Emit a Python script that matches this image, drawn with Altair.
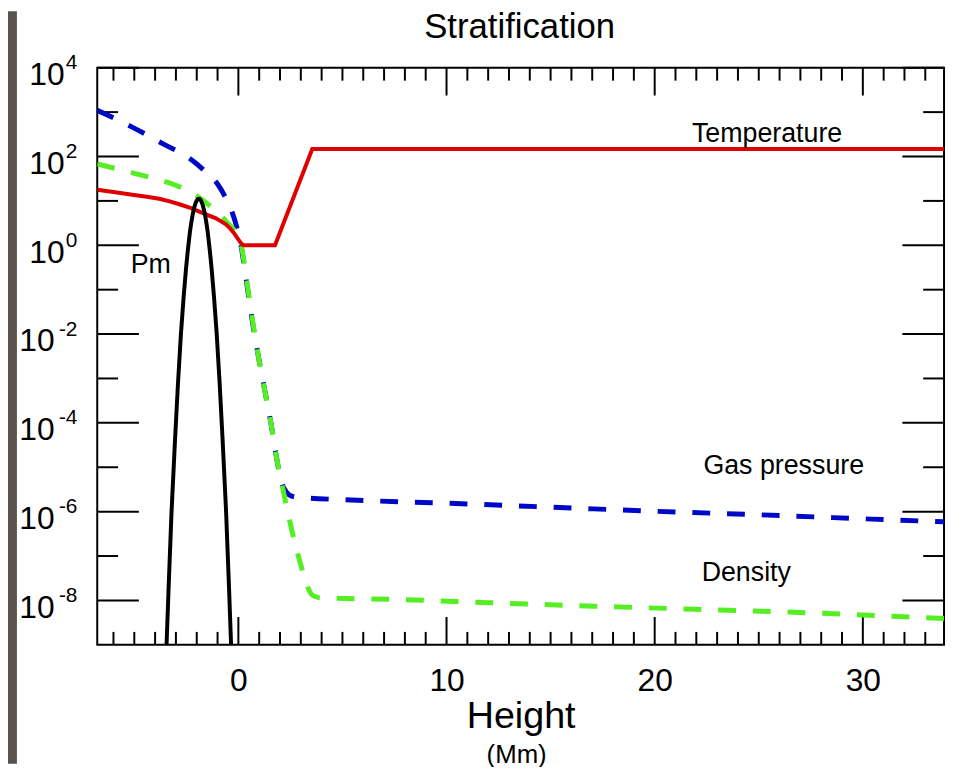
import altair as alt
import pandas as pd

# ---------------- data ----------------
# Temperature (red, solid)
temp_x = [-6.78, -6.0, -5.1, -4.4, -3.8, -3.3, -2.8, -2.35, -1.9, -1.5, -1.1, -0.85, -0.6,
          -0.4, -0.2, 0.0, 0.12, 0.25, 1.76, 3.55, 33.9]
temp_y = [17.8, 15.8, 13.8, 12.4, 11.2, 9.8, 8.3, 7.1, 5.8, 4.85, 4.1, 3.5, 2.95,
          2.4, 1.86, 1.35, 1.12, 1.0, 1.0, 148, 148]

# Gas pressure (blue, dashed)
pres_x = [-6.78, -5.1, -3.5, -2.5, -1.5, -1.0, -0.6, -0.3, -0.1, 0.15, 0.4, 0.7, 1.0,
          1.3, 1.6, 1.86, 2.05, 2.3, 2.6, 2.9, 5, 10, 15, 20, 25, 30, 33.9]
pres_y = [1.1e3, 4.6e2, 1.8e2, 1.02e2, 42, 24, 11.5, 5.6, 2.8, 0.85, 0.14, 1.6e-2, 2.5e-3,
          4.5e-4, 7.9e-5, 1.4e-5, 5.0e-6, 2.8e-6, 2.2e-6, 2.1e-6, 1.86e-6, 1.55e-6,
          1.26e-6, 1.02e-6, 8.5e-7, 6.9e-7, 5.9e-7]

# Density (green, dashed)
dens_x = [-6.78, -5.1, -3.5, -2.95, -2.5, -1.6, -1.24, -0.6, 0.0, 0.15, 0.4, 0.7, 1.0, 1.3,
          1.6, 1.86, 2.14, 2.71, 3.0, 3.33, 3.55, 3.9, 7.6, 12, 17.1, 22, 26.7, 30, 33.9]
dens_y = [68, 43, 27, 22, 17.8, 9.5, 6.8, 3.5, 1.45, 0.93, 0.16, 1.8e-2, 2.5e-3, 4.5e-4,
          7.9e-5, 1.4e-5, 3.2e-6, 2.0e-7, 6.3e-8, 2.0e-8, 1.32e-8, 1.15e-8, 1.05e-8,
          8.9e-9, 7.4e-9, 6.3e-9, 5.4e-9, 4.7e-9, 3.9e-9]

# Pm (black, solid)
pm_x = [-3.45, -3.35, -3.21, -3.0, -2.9, -2.76, -2.63, -2.52, -2.4, -2.32, -2.25, -2.15,
        -2.05, -1.9, -1.75, -1.65, -1.55, -1.48, -1.4, -1.28, -1.17, -1.04, -0.9, -0.8,
        -0.59, -0.45, -0.35]
pm_y = [1e-9, 2e-8, 1e-6, 1e-4, 7.9e-4, 1e-2, 6.8e-2, 0.28, 1.0, 2.1, 3.5, 6.2,
        9.1, 11.2, 9.1, 6.2, 3.5, 2.1, 1.0, 0.28, 6.8e-2, 1e-2, 7.9e-4, 1e-4,
        1e-6, 2e-8, 1e-9]

# Annotations
ann_text = ["Temperature", "Gas pressure", "Density", "Pm"]
ann_x = [25.4, 26.2, 24.4, -4.21]
ann_y = [211, 6.9e-6, 2.8e-8, 0.237]

# Axis ticks / labels
x_major = [0, 10, 20, 30]
x_minor = [v for v in range(-6, 34) if v not in x_major]
y_major_exp = [4, 2, 0, -2, -4, -6, -8]
y_minor_exp = [3, 1, -1, -3, -5, -7]

title_text = "Stratification"
x_title = "Height"
x_unit = "(Mm)"

# ---------------- chart ----------------
F = "Liberation Sans"
W, H = 854, 582
xscale = alt.Scale(domain=[-6.78, 33.9], nice=False, zero=False)
yscale = alt.Scale(type="log", domain=[1e-9, 1e4], nice=False)

xaxis = alt.Axis(values=x_major, labelFontSize=32, labelFont=F, labelColor="black",
                 labelPadding=21, tickSize=0, ticks=False, domain=False, grid=False,
                 labelFlush=False, labelOverlap=False,
                 title=x_title, titleFontSize=38, titleFont=F, titleFontWeight="normal",
                 titleColor="black", titleX=427, titleY=83, titleBaseline="alphabetic",
                 titleAlign="center")


def X():
    return alt.X("h:Q", scale=xscale, axis=xaxis)


def Y():
    return alt.Y("v:Q", scale=yscale, axis=None)


def line(xs, ys, color, width, dash=None, interp="monotone"):
    df = pd.DataFrame({"h": xs, "v": ys})
    kw = dict(color=color, strokeWidth=width, clip=True, interpolate=interp)
    if dash:
        kw["strokeDash"] = dash
    return alt.Chart(df).mark_line(**kw).encode(x=X(), y=Y(), order=alt.Order("h:Q"))


def xticks(vals, length):
    df = pd.DataFrame({"h": vals})
    base = alt.Chart(df).mark_rule(color="black", strokeWidth=2)
    bottom = base.encode(x=X(), y=alt.value(H), y2=alt.value(H - length))
    top = base.encode(x=X(), y=alt.value(0), y2=alt.value(length))
    return [bottom, top]


def yticks(exps, length):
    df = pd.DataFrame({"v": [10.0 ** e for e in exps]})
    base = alt.Chart(df).mark_rule(color="black", strokeWidth=2)
    left = base.encode(y=Y(), x=alt.value(0), x2=alt.value(length))
    right = base.encode(y=Y(), x=alt.value(W), x2=alt.value(W - length))
    return [left, right]


frame = alt.Chart(pd.DataFrame({"a": [0]})).mark_rect(color="#57534e").encode(
    x=alt.value(-90), x2=alt.value(-81), y=alt.value(-57), y2=alt.value(H + 120))

ylab = pd.DataFrame({"v": [10.0 ** e for e in y_major_exp],
                     "e": [str(e) for e in y_major_exp],
                     "n": y_major_exp})
exp_layer = alt.Chart(ylab).mark_text(align="right", baseline="alphabetic", dy=1.5,
                                      fontSize=21, font=F, color="black").encode(
    x=alt.value(-20), y=Y(), text="e:N")
ten_pos = alt.Chart(ylab).transform_filter("datum.n >= 0").mark_text(
    align="right", baseline="alphabetic", dy=17.5, fontSize=32, font=F, color="black").encode(
    x=alt.value(-33), y=Y(), text=alt.value("10"))
ten_neg = alt.Chart(ylab).transform_filter("datum.n < 0").mark_text(
    align="right", baseline="alphabetic", dy=17.5, fontSize=32, font=F, color="black").encode(
    x=alt.value(-43), y=Y(), text=alt.value("10"))

ann = alt.Chart(pd.DataFrame({"t": ann_text, "h": ann_x, "v": ann_y})).mark_text(
    align="center", baseline="alphabetic", fontSize=27, font=F, color="black").encode(
    x=X(), y=Y(), text="t:N")

title = alt.Chart(pd.DataFrame({"t": [title_text]})).mark_text(
    align="center", baseline="alphabetic", fontSize=35, font=F, color="black").encode(
    x=alt.value(426), y=alt.value(-30), text="t:N")

unit = alt.Chart(pd.DataFrame({"t": [x_unit]})).mark_text(
    align="center", baseline="alphabetic", fontSize=26, font=F, color="black").encode(
    x=alt.value(423), y=alt.value(701), text="t:N")

layers = [frame]
layers += xticks(x_major, 28) + xticks(x_minor, 13)
layers += yticks(y_major_exp, 42) + yticks(y_minor_exp, 21)
layers += [
    line(pres_x, pres_y, "#0008c8", 5, dash=[18, 17]),
    line(dens_x, dens_y, "#55ee22", 5, dash=[18, 17]),
    line(temp_x, temp_y, "#e00000", 4, interp="linear"),
    line(pm_x, pm_y, "black", 4),
    exp_layer, ten_pos, ten_neg, ann, title, unit,
]

chart = alt.layer(*layers).properties(
    width=W, height=H,
    autosize=alt.AutoSizeParams(type="none"),
    padding={"left": 90, "top": 57, "right": 2, "bottom": 120},
    background="white",
).configure_view(stroke="black", strokeWidth=2)

chart.save("out.html", embed_options={"renderer": "svg", "actions": False})
